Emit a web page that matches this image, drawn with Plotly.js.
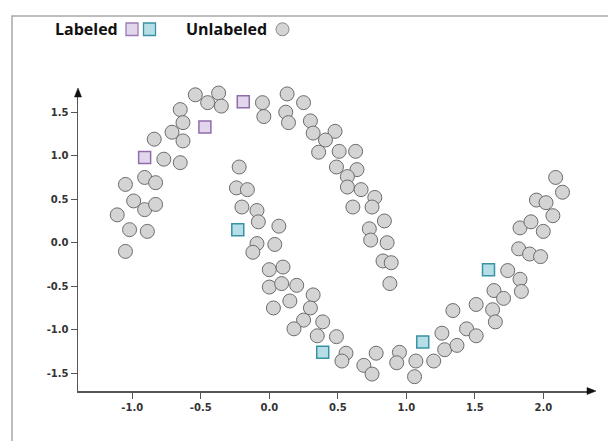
<!DOCTYPE html>
<html>
<head>
<meta charset="utf-8">
<script src="https://cdn.plot.ly/plotly-3.0.1.min.js"></script>
<style>
html,body{margin:0;padding:0;background:#fff;}
#chart{width:608px;height:441px;}
</style>
</head>
<body>
<div id="chart"></div>
<script>
// Unlabeled points (gray circles)
const unlabeledX = [-1.11,-1.05,-1.05,-1.02,-0.99,-0.91,-0.91,-0.89,-0.84,-0.83,-0.83,-0.77,-0.71,-0.65,-0.65,-0.63,-0.63,-0.54,-0.45,-0.37,-0.35,-0.31,-0.13,-0.05,-0.04,0.13,0.12,0.14,0.25,0.30,0.32,0.48,0.41,0.36,0.51,0.63,0.49,0.64,0.57,0.57,0.67,0.77,0.75,0.61,0.84,0.73,0.74,0.86,0.83,0.89,0.88,
  -0.22,-0.24,-0.16,-0.20,-0.09,-0.08,0.07,-0.09,-0.12,0.04,0.00,0.10,0.00,0.09,0.20,0.15,0.32,0.03,0.30,0.25,0.18,0.39,0.35,0.49,0.56,0.53,0.69,0.78,0.75,0.95,0.93,1.07,1.06,1.20,1.28,1.26,1.37,1.34,1.44,1.51,1.51,1.64,1.71,1.63,1.65,1.74,1.83,1.84,1.82,1.90,1.98,1.83,1.91,2.00,1.95,2.02,2.07,2.09,2.14];
const unlabeledY = [0.32,-0.10,0.67,0.15,0.48,0.75,0.38,0.13,1.19,0.69,0.44,0.96,1.27,1.53,0.92,1.38,1.17,1.70,1.61,1.72,1.57,1.82,1.82,1.61,1.45,1.71,1.50,1.38,1.61,1.40,1.26,1.28,1.18,1.04,1.05,1.05,0.87,0.84,0.76,0.64,0.61,0.52,0.41,0.41,0.25,0.16,0.03,0.00,-0.21,-0.23,-0.47,
  0.87,0.63,0.61,0.41,0.37,0.24,0.19,-0.01,-0.11,-0.02,-0.31,-0.28,-0.51,-0.47,-0.49,-0.67,-0.60,-0.75,-0.75,-0.89,-0.99,-0.91,-1.07,-1.08,-1.27,-1.36,-1.41,-1.27,-1.51,-1.26,-1.38,-1.36,-1.54,-1.36,-1.23,-1.04,-1.18,-0.78,-0.99,-1.07,-0.71,-0.55,-0.64,-0.77,-0.91,-0.32,-0.42,-0.56,-0.07,-0.13,-0.16,0.17,0.24,0.13,0.49,0.46,0.31,0.75,0.58];
// Labeled points, class A (purple squares)
const labeledAX = [-0.91,-0.47,-0.19];
const labeledAY = [0.98,1.33,1.62];
// Labeled points, class B (teal squares)
const labeledBX = [-0.23,0.39,1.12,1.60];
const labeledBY = [0.15,-1.26,-1.14,-0.31];
// Tick values and labels
const xTickVals = [-1.0,-0.5,0.0,0.5,1.0,1.5,2.0];
const xTickText = ["-1.0","-0.5","0.0","0.5","1.0","1.5","2.0"];
const yTickVals = [-1.5,-1.0,-0.5,0.0,0.5,1.0,1.5];
const yTickText = ["-1.5","-1.0","-0.5","0.0","0.5","1.0","1.5"];
const legendLabels = ["Labeled","Unlabeled"];

// geometry helpers (pixel -> paper)
const W = 608, H = 441, ML = 78, MR = 18, MT = 93, MB = 50;
const PW = W - ML - MR, PH = H - MT - MB;
const px = v => (v - ML) / PW;
const py = v => (H - MB - v) / PH;

const traces = [
  {x: unlabeledX, y: unlabeledY, type: 'scatter', mode: 'markers', hoverinfo: 'skip', cliponaxis: false,
   marker: {symbol: 'circle', size: 14, color: '#d4d4d4', line: {color: '#6c6c6c', width: 1}}},
  {x: labeledAX, y: labeledAY, type: 'scatter', mode: 'markers', hoverinfo: 'skip', cliponaxis: false,
   marker: {symbol: 'square', size: 12, color: '#e2d6ec', line: {color: '#8f6cab', width: 1.5}}},
  {x: labeledBX, y: labeledBY, type: 'scatter', mode: 'markers', hoverinfo: 'skip', cliponaxis: false,
   marker: {symbol: 'square', size: 12, color: '#b5dee7', line: {color: '#3a93a5', width: 1.5}}}
];

const tickFont = {family: 'DejaVu Sans', size: 10, color: '#333', weight: 'bold'};
const layout = {
  width: W, height: H,
  margin: {l: ML, r: MR, t: MT, b: MB, pad: 0},
  paper_bgcolor: '#fff', plot_bgcolor: '#fff',
  showlegend: false,
  xaxis: {range: [(ML - 269.3) / 137, (W - MR - 269.3) / 137], showgrid: false, zeroline: false,
    showline: true, linecolor: '#555', linewidth: 1.5, ticks: 'outside', ticklen: 6, tickwidth: 1.2, tickcolor: '#555',
    tickmode: 'array', tickvals: xTickVals, ticktext: xTickText, tickfont: tickFont, fixedrange: true},
  yaxis: {range: [(242.7 - (H - MB)) / 87, (242.7 - MT) / 87], showgrid: false, zeroline: false,
    showline: true, linecolor: '#555', linewidth: 1.5, ticks: 'outside', ticklen: 6, tickwidth: 1.2, tickcolor: '#555',
    tickmode: 'array', tickvals: yTickVals, ticktext: yTickText, tickfont: tickFont, fixedrange: true},
  shapes: [
    // outer frame (top/left edges visible)
    {type: 'rect', xref: 'paper', yref: 'paper', x0: px(12), x1: px(640), y0: py(470), y1: py(16),
     line: {color: '#a8a8a8', width: 1.5}, fillcolor: 'rgba(0,0,0,0)', layer: 'below'},
    // arrow heads
    {type: 'path', xref: 'paper', yref: 'paper',
     path: `M ${px(596)} ${py(391)} L ${px(587)} ${py(387.5)} L ${px(587)} ${py(394.5)} Z`,
     fillcolor: '#111', line: {color: '#111', width: 0.5}},
    {type: 'path', xref: 'paper', yref: 'paper',
     path: `M ${px(78)} ${py(88)} L ${px(74.5)} ${py(97)} L ${px(81.5)} ${py(97)} Z`,
     fillcolor: '#111', line: {color: '#111', width: 0.5}},
    // legend icons
    {type: 'rect', xref: 'paper', yref: 'paper', x0: px(126), x1: px(138), y0: py(35.5), y1: py(23),
     fillcolor: '#e2d6ec', line: {color: '#9a7db5', width: 1.3}},
    {type: 'rect', xref: 'paper', yref: 'paper', x0: px(143.5), x1: px(155.5), y0: py(35.5), y1: py(23),
     fillcolor: '#b5dee7', line: {color: '#3a93a5', width: 1.3}},
    {type: 'circle', xref: 'paper', yref: 'paper', x0: px(276), x1: px(289), y0: py(35.8), y1: py(22.8),
     fillcolor: '#d4d4d4', line: {color: '#8a8a8a', width: 1}}
  ],
  annotations: [
    {xref: 'paper', yref: 'paper', x: px(53), y: py(29.5), xanchor: 'left', yanchor: 'middle', showarrow: false,
     text: legendLabels[0], font: {family: 'Open Sans', size: 16, color: '#111', weight: 'bold'}},
    {xref: 'paper', yref: 'paper', x: px(184), y: py(29.5), xanchor: 'left', yanchor: 'middle', showarrow: false,
     text: legendLabels[1], font: {family: 'Open Sans', size: 16, color: '#111', weight: 'bold'}}
  ]
};

Plotly.newPlot('chart', traces, layout, {staticPlot: true, displayModeBar: false});
</script>
</body>
</html>
